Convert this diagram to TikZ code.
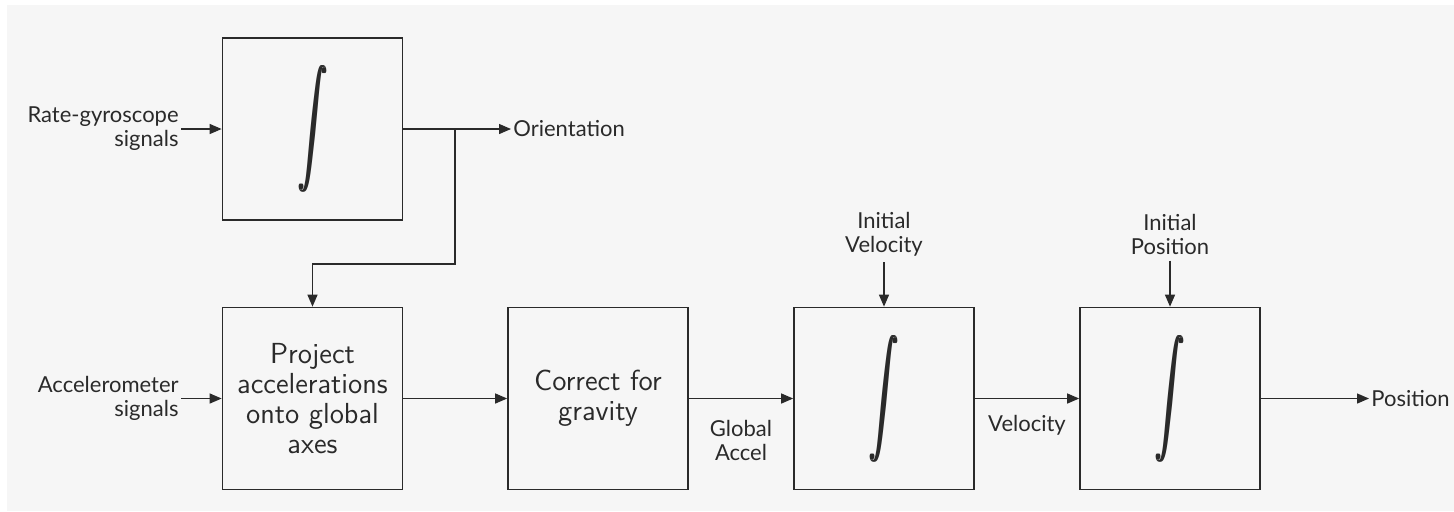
\documentclass[tikz,border=0pt]{standalone}
\usepackage{fontspec}
\usepackage{graphicx}
\newfontfamily\labfont{Lato}
\usetikzlibrary{arrows.meta}
\definecolor{bg}{HTML}{F6F6F6}
\definecolor{ink}{HTML}{2A2A2A}
\newcommand{\intone}{\scalebox{1.45}[2.85]{$\displaystyle\int$}}
\newcommand{\intsym}{\rlap{\intone}\hspace{0.5pt}\rlap{\intone}\hspace{0.5pt}\intone}
\begin{document}
\begin{tikzpicture}[x=0.5pt,y=-0.5pt,
  blk/.style={draw=ink, line width=0.85pt, minimum width=90pt, minimum height=91pt, inner sep=2pt, align=center, text=ink, font=\sffamily\fontsize{14.5}{15}\selectfont},
  lab/.style={inner sep=1pt, text=ink, font=\labfont\fontsize{11}{12}\selectfont},
  arr/.style={draw=ink, line width=0.65pt, -{Triangle[length=6pt,width=5pt]}}]
\useasboundingbox (0,0) rectangle (1454,511);
\fill[white] (0,0) rectangle (1454,511);
\fill[bg] (7,5) rectangle (1454,511);
\node[blk] (g) at (312.5,129) {\intsym};
\node[blk] (p) at (312.5,398.5) {Project\\accelerations\\onto global\\axes};
\node[blk] (c) at (598,398.5) {Correct for\\gravity};
\node[blk] (v) at (884,398.5) {\intsym};
\node[blk] (x) at (1170,398.5) {\intsym};
\node[lab, anchor=east, align=right] (rg) at (181,129) {Rate-gyroscope\\signals};
\node[lab, anchor=east, align=right] (ac) at (181,398.5) {Accelerometer\\signals};
\node[lab, anchor=west] (or) at (511,129) {Orientation};
\node[lab, align=center] (ga) at (741,440) {Global\\Accel};
\node[lab] (vl) at (1027,425) {Velocity};
\node[lab, align=center] (iv) at (884,234) {Initial\\Velocity};
\node[lab, align=center] (ip) at (1170,234) {Initial\\Position};
\node[lab, anchor=west] (po) at (1369,398.5) {Position};
\coordinate (br) at (455,129);
\coordinate (bend) at (455,264);
\draw[arr] (rg.east) -- (g.west);
\draw[arr] (ac.east) -- (p.west);
\draw[arr] (g.east) -- (or.west);
\draw[arr] (br) -- (bend) -| (p.north);
\draw[arr] (p.east) -- (c.west);
\draw[arr] (c.east) -- (v.west);
\draw[arr] (v.east) -- (x.west);
\draw[arr] (x.east) -- (po.west);
\draw[arr] (iv.south) ++(0,4) -- (v.north);
\draw[arr] (ip.south) ++(0,4) -- (x.north);
\end{tikzpicture}
\end{document}
